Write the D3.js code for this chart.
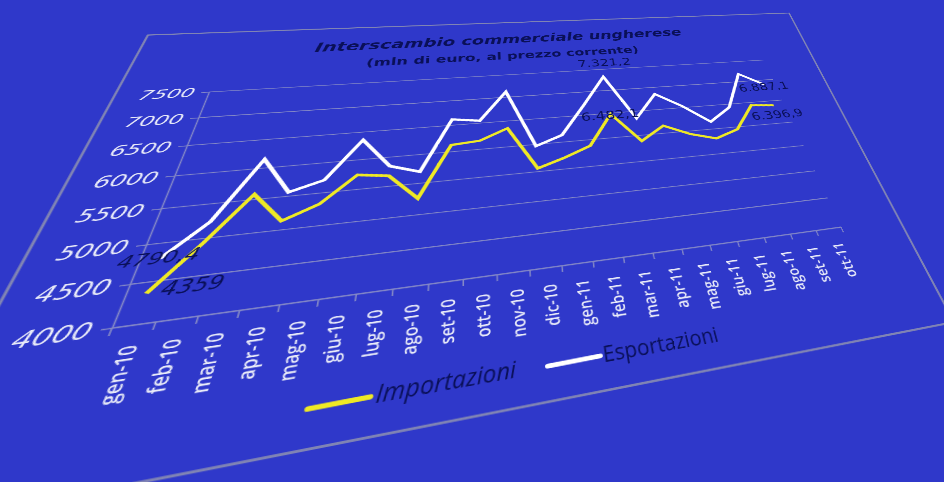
<!DOCTYPE html>
<html><head><meta charset="utf-8">
<script src="https://cdn.jsdelivr.net/npm/d3@7"></script>
<style>
html,body{margin:0;padding:0;width:944px;height:482px;overflow:hidden;background:#2f38ca}
#wrap{position:absolute;left:0;top:0;width:944px;height:482px;overflow:hidden;filter:blur(0.55px)}
svg{position:absolute;left:0;top:0;transform-origin:0 0;overflow:visible}
</style></head><body><div id="wrap"></div>
<script>
const categories=["gen-10","feb-10","mar-10","apr-10","mag-10","giu-10","lug-10","ago-10","set-10","ott-10","nov-10","dic-10","gen-11","feb-11","mar-11","apr-11","mag-11","giu-11","lug-11","ago-11","set-11","ott-11"];
const importazioni=[4359,4936,5583,5131,5328,5741,5677,5258,6124,6160,6357,5559,5706,5884,6482.1,5886,6153,5938,5805,5950,6437,6396.9];
const esportazioni=[4790.4,5231,6149,5563,5707,6352,5842,5696,6618,6550,7120,5968,6137,6716,7321.2,6351,6846,6538,6153,6429,7187,6887.1];
const yTicks=[4000,4500,5000,5500,6000,6500,7000,7500];
const titleText="Interscambio commerciale ungherese";
const subtitleText="(mln di  euro, al prezzo corrente)";
const seriesNames=["Importazioni","Esportazioni"];
const dataLabels=["4790,4","4359","7.321,2","6.482,1","6.887,1","6.396,9"];

// perspective: where the flat plot rectangle lands on the page
const corners={p00:[112,328],p10:[841,227],p11:[764,60],p01:[209,92]};
const W=800,H=400,OX=600,OY=500;
function squareToQuad(q){
  const [x0,y0]=q.p00,[x1,y1]=q.p10,[x2,y2]=q.p11,[x3,y3]=q.p01;
  const dx1=x1-x2,dx2=x3-x2,sx=x0-x1+x2-x3,dy1=y1-y2,dy2=y3-y2,sy=y0-y1+y2-y3;
  const den=dx1*dy2-dx2*dy1,g=(sx*dy2-dx2*sy)/den,h=(dx1*sy-sx*dy1)/den;
  return [[x1-x0+g*x1,x3-x0+h*x3,x0],[y1-y0+g*y1,y3-y0+h*y3,y0],[g,h,1]];
}
const mul=(A,B)=>A.map(r=>B[0].map((_,j)=>r.reduce((s,v,k)=>s+v*B[k][j],0)));
function inv3(m){
  const [[a,b,c],[d,e,f],[g,h,i]]=m;
  const A=e*i-f*h,B=f*g-d*i,C=d*h-e*g,det=a*A+b*B+c*C;
  return [[A,c*h-b*i,b*f-c*e],[B,a*i-c*g,c*d-a*f],[C,b*g-a*h,a*e-b*d]].map(r=>r.map(v=>v/det));
}
const flatToUV=[[1/W,0,-OX/W],[0,-1/H,(OY+H)/H],[0,0,1]];
const M=mul(squareToQuad(corners),flatToUV), Mi=inv3(M);
const toFlat=([x,y])=>{const w=Mi[2][0]*x+Mi[2][1]*y+Mi[2][2];return [(Mi[0][0]*x+Mi[0][1]*y+Mi[0][2])/w,(Mi[1][0]*x+Mi[1][1]*y+Mi[1][2])/w];};

const svg=d3.select("#wrap").append("svg").attr("width",2400).attr("height",1500)
  .style("transform",`matrix3d(${M[0][0]},${M[1][0]},0,${M[2][0]},${M[0][1]},${M[1][1]},0,${M[2][1]},0,0,1,0,${M[0][2]},${M[1][2]},0,${M[2][2]})`);

// outer chart frame
const frame=[[148,35],[789,13],[954,322],[-128,535]].map(toFlat);
svg.append("path").attr("d",d3.line()(frame)+"Z").attr("fill","none").attr("stroke","#8084b4").attr("stroke-width",3);

const g=svg.append("g").attr("transform",`translate(${OX},${OY})`);
const x=d3.scaleBand().domain(categories).range([0,W]);
const y=d3.scaleLinear().domain([4000,7500]).range([H,0]);
const grey="#8589c6", ink="#0a1058", light="#e8eaf8";

g.append("g").selectAll("line").data(yTicks).join("line")
  .attr("x1",0).attr("x2",W).attr("y1",d=>y(d)).attr("y2",d=>y(d)).attr("stroke",grey).attr("stroke-width",1.6);

const yAxis=g.append("g").call(d3.axisLeft(y).tickValues(yTicks).tickSize(9).tickSizeOuter(0).tickPadding(10).tickFormat(d3.format("d")));
yAxis.selectAll("path,line").attr("stroke",grey).attr("stroke-width",1.6);
yAxis.selectAll("text").attr("fill",light).attr("font-family","DejaVu Sans").attr("font-style","italic").attr("font-size",28)
  .attr("transform","scale(0.87,1)");

const xAxis=g.append("g").attr("transform",`translate(0,${H})`).call(d3.axisBottom(x).tickSize(0).tickPadding(0));
xAxis.select("path").attr("stroke",grey).attr("stroke-width",1.6);
xAxis.selectAll("text").attr("fill",light).attr("font-family","Open Sans").attr("font-weight",600).attr("font-size",20)
  .attr("text-anchor","end").attr("dy",0)
  .attr("transform","translate(10,26) rotate(-90) scale(1.05,1)");
g.append("g").selectAll("line").data(d3.range(categories.length+1)).join("line")
  .attr("x1",i=>i*x.step()).attr("x2",i=>i*x.step()).attr("y1",H).attr("y2",H+10).attr("stroke",grey).attr("stroke-width",1.6);

const line=d3.line().x((d,i)=>x(categories[i])+x.bandwidth()/2).y(d=>y(d));
const colors=["#efe925","#ffffff"];
[importazioni,esportazioni].forEach((s,k)=>{
  g.append("path").datum(s).attr("d",line).attr("fill","none").attr("stroke",colors[k])
   .attr("stroke-width",5).attr("stroke-linejoin","miter");
});

// texts placed by where they sit on the page
function place(pt,txt,o){
  const [fx,fy]=toFlat(pt);
  return svg.append("text").attr("transform",`translate(${fx},${fy}) scale(${o.sx||1},1)`).text(txt).attr("fill",ink)
    .attr("font-family",o.family||"DejaVu Sans").attr("font-size",o.size)
    .attr("font-style",o.italic?"italic":"normal").attr("font-weight",o.bold?"bold":"normal")
    .attr("text-anchor",o.anchor||"middle");
}
place([512,43],titleText,{size:33,sx:.8,bold:true,italic:true});
place([510,59],subtitleText,{size:27,sx:.82,bold:true});

const labelSpots=[[157,264,25,true],[191,292,26,true],[605,66,26,false],[611,119,26,false],[765,90,26,false],[779,118,26,false]];
dataLabels.forEach((t,i)=>{const s=labelSpots[i];place([s[0],s[1]],t,{size:s[2],sx:.85,italic:s[3]});});

// legend
const legendLines=[[[308,409],[370,397]],[[548,366],[600,356]]];
legendLines.forEach((seg,k)=>{
  svg.append("path").attr("d",d3.line()(seg.map(toFlat))).attr("stroke",colors[k]).attr("stroke-width",6).attr("stroke-linecap","round").attr("fill","none");
});
place([375,403],seriesNames[0],{size:29,sx:.8,italic:true,anchor:"start",family:"Open Sans"});
place([604,362],seriesNames[1],{size:29,sx:.77,anchor:"start",family:"Open Sans"});
</script></body></html>
